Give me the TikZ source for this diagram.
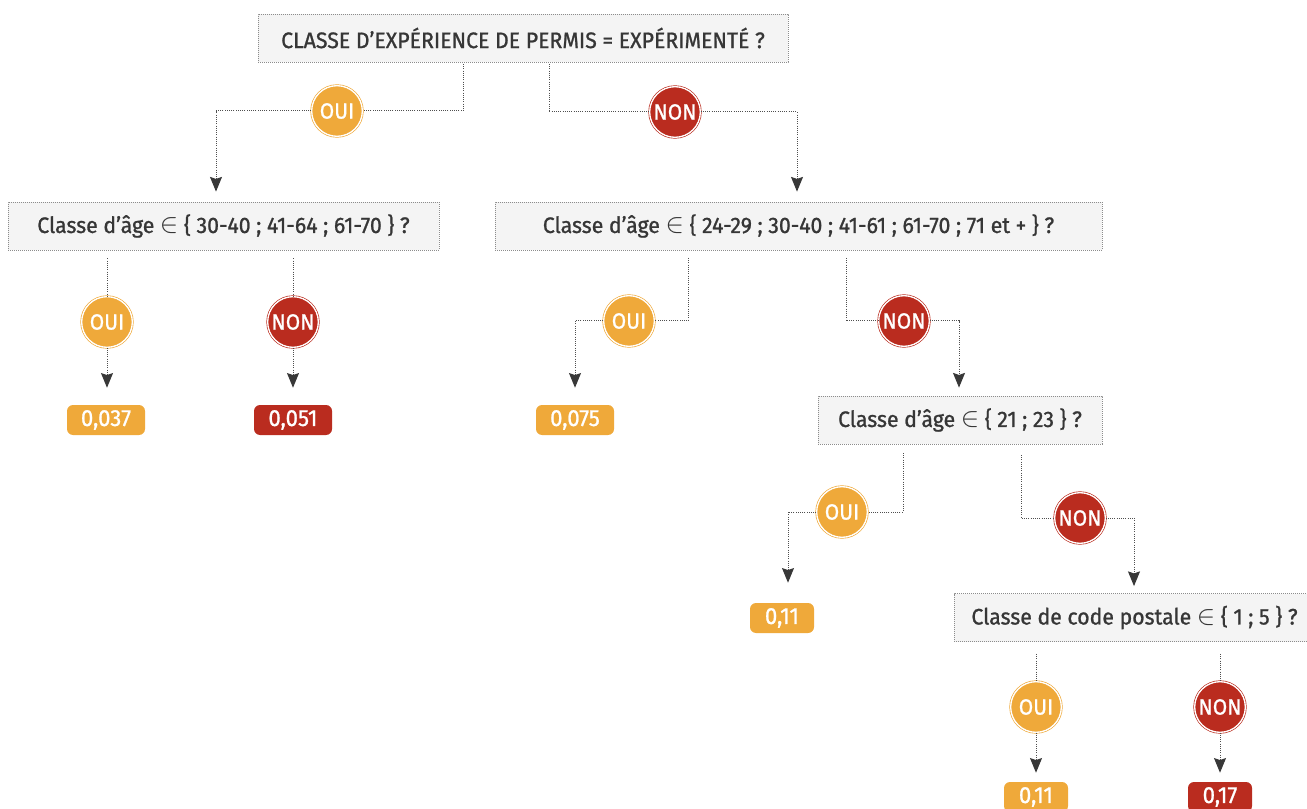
\documentclass[tikz,border=0pt]{standalone}
\usepackage{fontspec}
\setmainfont{Fira Sans}[FakeStretch=0.95,FakeBold=1]
\usetikzlibrary{arrows.meta}
\definecolor{ouic}{HTML}{EFA93A}
\definecolor{nonc}{HTML}{BA2C1F}
\definecolor{qfill}{HTML}{F4F4F4}
\definecolor{qline}{HTML}{8C8C8C}
\definecolor{connc}{HTML}{4F4F4F}
\definecolor{txtc}{HTML}{363636}
\definecolor{tipc}{HTML}{383838}
\newcommand{\elt}{{\fontsize{20}{20}\selectfont$\in$}}
\begin{document}
\begin{tikzpicture}[x=0.75pt,y=-0.75pt,
  question/.style={draw=qline, line width=0.6pt, dash pattern=on 0.6pt off 0.9pt,
    fill=qfill, minimum height=36pt, inner sep=0pt, text=txtc,
    font=\fontsize{16.8}{19}\selectfont},
  decision/.style={circle, minimum size=38pt, inner sep=0pt, line width=0.5pt,
    double=white, double distance=1pt, text=white,
    font=\fontsize{16.5}{19}\selectfont},
  oui/.style={decision, draw=ouic, fill=ouic},
  non/.style={decision, draw=nonc, fill=nonc},
  leaf/.style={rounded corners=4.5pt, minimum height=22.5pt, inner sep=0pt,
    text=white, font=\fontsize{17.5}{19}\selectfont},
  leafoui/.style={leaf, fill=ouic},
  leafnon/.style={leaf, fill=nonc},
  conn/.style={draw=connc, line width=0.75pt, dash pattern=on 0.75pt off 0.9pt},
  arr/.style={conn, -{Stealth[length=11pt,width=9pt,inset=1.5pt,fill=tipc,color=tipc]}}
]
\useasboundingbox (0,0) rectangle (1307,809);

% questions
\node[question, minimum width=397.5pt] (q0) at (523,38) {CLASSE D’EXPÉRIENCE DE PERMIS = EXPÉRIMENTÉ ?};
\node[question, minimum width=323.25pt] (q1) at (223.5,226) {Classe d’âge \elt\ \{ 30-40 ; 41-64 ; 61-70 \} ?};
\node[question, minimum width=455.25pt] (q2) at (798.5,226) {Classe d’âge \elt\ \{ 24-29 ; 30-40 ; 41-61 ; 61-70 ; 71 et + \} ?};
\node[question, minimum width=213pt] (q3) at (960,420) {Classe d’âge \elt\ \{ 21 ; 23 \} ?};
\node[question, minimum width=270.75pt] (q4) at (1134.5,617.5) {Classe de code postale \elt\ \{ 1 ; 5 \} ?};

% decisions
\node[oui] (o0) at (337,111) {OUI};
\node[non] (n0) at (675,112) {NON};
\node[oui] (o1) at (107,322) {OUI};
\node[non] (n1) at (293,322) {NON};
\node[oui] (o2) at (629,321) {OUI};
\node[non] (n2) at (904,321) {NON};
\node[oui] (o3) at (842,512) {OUI};
\node[non] (n3) at (1080,518) {NON};
\node[oui] (o4) at (1036,707) {OUI};
\node[non] (n4) at (1220,707) {NON};

% leaves
\node[leafoui, minimum width=58.5pt] (l1) at (106,420) {0,037};
\node[leafnon, minimum width=58.5pt] (l2) at (293,420) {0,051};
\node[leafoui, minimum width=58.5pt] (l3) at (575,420) {0,075};
\node[leafoui, minimum width=48pt] (l4) at (782,618) {0,11};
\node[leafoui, minimum width=48pt] (l5) at (1036,797) {0,11};
\node[leafnon, minimum width=48pt] (l6) at (1220,797) {0,17};

% coordinates
\coordinate (a0) at (463,64);
\coordinate (b0) at (216,0);
\coordinate (a1) at (549,64);
\coordinate (b1) at (797,0);
\coordinate (a2) at (688,258);
\coordinate (b2) at (575,0);
\coordinate (a3) at (846,258);
\coordinate (b3) at (959,0);
\coordinate (a4) at (903,453);
\coordinate (b4) at (788,0);
\coordinate (a5) at (1021,455);
\coordinate (b5) at (1134,0);

% level 0
\draw[conn] (a0) |- (o0);
\draw[arr, shorten >=7.5pt] (o0) -| (q1.north -| b0);
\draw[conn] (a1) |- (n0);
\draw[arr, shorten >=7.5pt] (n0) -| (q2.north -| b1);

% level 1 left
\draw[conn, shorten <=6pt] (q1.south -| o1) -- (o1);
\draw[arr, shorten >=12.75pt] (o1) -- (l1.north -| o1);
\draw[conn, shorten <=6pt] (q1.south -| n1) -- (n1);
\draw[arr, shorten >=12.75pt] (n1) -- (l2.north -| n1);

% level 1 right
\draw[conn] (a2) |- (o2);
\draw[arr, shorten >=12.75pt] (o2) -| (l3.north -| b2);
\draw[conn] (a3) |- (n2);
\draw[arr, shorten >=6pt] (n2) -| (q3.north -| b3);

% level 2
\draw[conn] (a4) |- (o3);
\draw[arr, shorten >=15pt] (o3) -| (l4.north -| b4);
\draw[conn] (a5) |- (n3);
\draw[arr, shorten >=5.25pt] (n3) -| (q4.north -| b5);

% level 3
\draw[conn, shorten <=9pt] (q4.south -| o4) -- (o4);
\draw[arr, shorten >=6.75pt] (o4) -- (l5.north -| o4);
\draw[conn, shorten <=9pt] (q4.south -| n4) -- (n4);
\draw[arr, shorten >=6.75pt] (n4) -- (l6.north -| n4);
\end{tikzpicture}
\end{document}
